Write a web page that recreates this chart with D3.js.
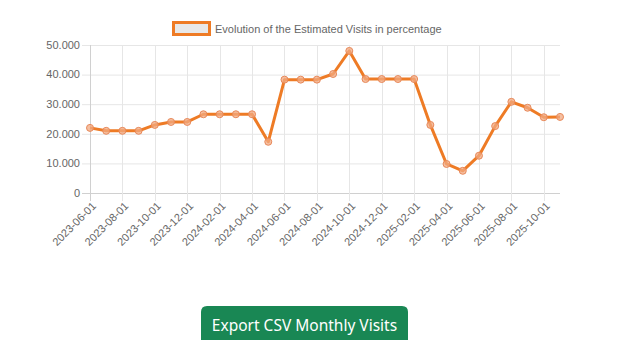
<!DOCTYPE html>
<html><head><meta charset="utf-8">
<script src="https://cdn.jsdelivr.net/npm/d3@7"></script>
<style>
html,body{margin:0;padding:0;background:#fff;width:620px;height:340px;overflow:hidden;}
svg{display:block;}
</style></head>
<body>
<svg id="chart" width="620" height="340"></svg>
<script>
const months = ["2023-06-01","2023-07-01","2023-08-01","2023-09-01","2023-10-01","2023-11-01","2023-12-01",
"2024-01-01","2024-02-01","2024-03-01","2024-04-01","2024-05-01","2024-06-01","2024-07-01","2024-08-01",
"2024-09-01","2024-10-01","2024-11-01","2024-12-01","2025-01-01","2025-02-01","2025-03-01","2025-04-01",
"2025-05-01","2025-06-01","2025-07-01","2025-08-01","2025-09-01","2025-10-01","2025-11-01"];
const visits = [22000,21000,21000,21000,23000,24000,24000,26600,26600,26600,26600,17300,38300,38300,38300,
40200,48000,38500,38500,38500,38500,23000,9800,7500,12600,22600,30800,28800,25600,25700];
const yTicks = [0,10000,20000,30000,40000,50000];
const tickLabels = months.filter((d,i)=>i%2===0);
const legendLabel = "Evolution of the Estimated Visits in percentage";
const buttonLabel = "Export CSV Monthly Visits";

const svg = d3.select("#chart");
const pLeft = 90, pRight = 560, pTop = 45, pBottom = 193;
const x = d3.scalePoint().domain(months).range([pLeft, pRight]);
const y = d3.scaleLinear().domain([0,50000]).range([pBottom, pTop]);
const fmt = v => d3.format(",")(v).replace(/,/g,".");
const font = "'Liberation Sans', Arial, sans-serif";
const orange = "#ee7b25";

// horizontal grid
svg.append("g").selectAll("line").data(yTicks).join("line")
  .attr("x1", pLeft-8).attr("x2", pRight)
  .attr("y1", d=>y(d)+0.5).attr("y2", d=>y(d)+0.5)
  .attr("stroke", d=> d===0 ? "#d0d0d0" : "#e6e6e6").attr("stroke-width",1);
// vertical grid
svg.append("g").selectAll("line").data(tickLabels).join("line")
  .attr("x1", d=>Math.round(x(d))+0.5).attr("x2", d=>Math.round(x(d))+0.5)
  .attr("y1", pTop).attr("y2", pBottom+8)
  .attr("stroke", (d,i)=> i===0 ? "#d0d0d0" : "#e6e6e6").attr("stroke-width",1);

// y labels
svg.append("g").selectAll("text").data(yTicks).join("text")
  .attr("x", pLeft-10).attr("y", d=>y(d)).attr("dy","0.35em")
  .attr("text-anchor","end").attr("font-family",font).attr("font-size",11).attr("fill","#666")
  .text(fmt);

// x labels
svg.append("g").selectAll("text").data(tickLabels).join("text")
  .attr("transform", d=>`translate(${x(d)+4},${pBottom+11}) rotate(-45)`)
  .attr("text-anchor","end").attr("dy","0.35em")
  .attr("font-family",font).attr("font-size",11).attr("fill","#666")
  .text(d=>d);

// line
svg.append("path").datum(months.map((m,i)=>[m,visits[i]]))
  .attr("d", d3.line().x(d=>x(d[0])).y(d=>y(d[1])))
  .attr("fill","none").attr("stroke",orange).attr("stroke-width",3).attr("stroke-linejoin","round");

// points
svg.append("g").selectAll("circle").data(months.map((m,i)=>[m,visits[i]])).join("circle")
  .attr("cx", d=>x(d[0])).attr("cy", d=>y(d[1])).attr("r",3.5)
  .attr("fill","rgba(242,170,130,0.75)").attr("stroke","#e8895a").attr("stroke-width",1);

// legend
svg.append("text").attr("x",215).attr("y",29).attr("dy","0.35em")
  .attr("font-family",font).attr("font-size",11).attr("fill","#666").text(legendLabel);
svg.append("rect").attr("x",173.5).attr("y",22.5).attr("width",36).attr("height",12)
  .attr("fill","#e8e8e8").attr("stroke",orange).attr("stroke-width",3);

// button
const bx=201, bw=207, by=306;
svg.append("path")
  .attr("d", `M${bx},${by+6} Q${bx},${by} ${bx+6},${by} L${bx+bw-6},${by} Q${bx+bw},${by} ${bx+bw},${by+6} L${bx+bw},345 L${bx},345 Z`)
  .attr("fill","#198754");
svg.append("text").attr("x",bx+bw/2).attr("y",326).attr("dy","0.35em")
  .attr("text-anchor","middle").attr("font-family","'Noto Sans', 'Open Sans', sans-serif")
  .attr("font-size",15.5).attr("fill","#fff").text(buttonLabel);
</script>
</body></html>
